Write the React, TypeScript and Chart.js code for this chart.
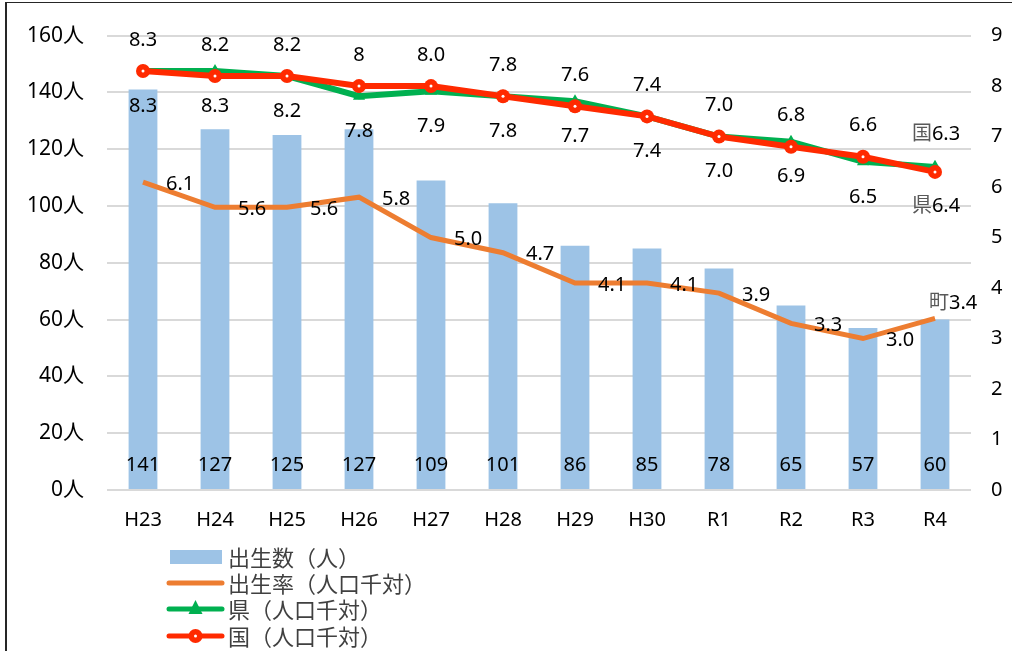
import React, { useEffect, useRef } from 'react';
import { Chart, registerables } from 'chart.js';

Chart.register(...registerables);

const categories = ['H23', 'H24', 'H25', 'H26', 'H27', 'H28', 'H29', 'H30', 'R1', 'R2', 'R3', 'R4'];
const births = [141, 127, 125, 127, 109, 101, 86, 85, 78, 65, 57, 60];
const townRate = [6.1, 5.6, 5.6, 5.8, 5.0, 4.7, 4.1, 4.1, 3.9, 3.3, 3.0, 3.4];
const prefRate = [8.3, 8.3, 8.2, 7.8, 7.9, 7.8, 7.7, 7.4, 7.0, 6.9, 6.5, 6.4];
const nationalRate = [8.3, 8.2, 8.2, 8.0, 8.0, 7.8, 7.6, 7.4, 7.0, 6.8, 6.6, 6.3];
const nationalLabels = ['8.3', '8.2', '8.2', '8', '8.0', '7.8', '7.6', '7.4', '7.0', '6.8', '6.6', '6.3'];
const legendLabels = ['出生数（人）', '出生率（人口千対）', '県（人口千対）', '国（人口千対）'];
const lastPrefixes = ['町', '県', '国'];
const leftMax = 160;
const leftStep = 20;
const rightMax = 9;
const rightStep = 1;

const FONT = "'Noto Sans', 'Noto Sans CJK JP', sans-serif";
const CJK = "'Noto Sans CJK JP', sans-serif";
const BAR = '#9DC3E6';
const ORANGE = '#ED7D31';
const GREEN = '#00B050';
const RED = '#FF2A00';
const FS = 20;

const labelPlugin = {
  id: 'customLabels',
  afterDatasetsDraw(chart: any) {
    const ctx = chart.ctx;
    ctx.save();
    chart.getDatasetMeta(3).data.forEach((el: any) => {
      ctx.fillStyle = '#fff';
      ctx.beginPath();
      ctx.arc(el.x, el.y, 1.5, 0, Math.PI * 2);
      ctx.fill();
    });
    ctx.font = `${FS}px ${FONT}`;
    ctx.textBaseline = 'middle';
    ctx.fillStyle = '#000';
    const y0 = chart.scales.y.getPixelForValue(0);
    ctx.textAlign = 'center';
    chart.getDatasetMeta(0).data.forEach((el: any, i: number) => {
      ctx.fillText(String(births[i]), el.x, y0 - 25);
    });
    const last = categories.length - 1;
    const drawPrefixed = (prefix: string, num: string, x: number, y: number, align: string) => {
      const pw = ctx.measureText(prefix).width;
      const nw = ctx.measureText(num).width;
      let left = x;
      if (align === 'center') left = x - (pw + nw) / 2;
      ctx.textAlign = 'left';
      ctx.fillStyle = '#595959';
      ctx.fillText(prefix, left, y);
      ctx.fillStyle = '#000';
      ctx.fillText(num, left + pw, y);
    };
    chart.getDatasetMeta(1).data.forEach((el: any, i: number) => {
      const t = townRate[i].toFixed(1);
      if (i === last) {
        drawPrefixed(lastPrefixes[0], t, el.x - 6, el.y - 15, 'left');
      } else {
        ctx.textAlign = 'left';
        ctx.fillStyle = '#000';
        ctx.fillText(t, el.x + 23, el.y + 2);
      }
    });
    chart.getDatasetMeta(2).data.forEach((el: any, i: number) => {
      const t = prefRate[i].toFixed(1);
      if (i === last) {
        drawPrefixed(lastPrefixes[1], t, el.x + 1, el.y + 39, 'center');
      } else {
        ctx.textAlign = 'center';
        ctx.fillStyle = '#000';
        ctx.fillText(t, el.x, el.y + 35);
      }
    });
    chart.getDatasetMeta(3).data.forEach((el: any, i: number) => {
      const t = nationalLabels[i];
      if (i === last) {
        drawPrefixed(lastPrefixes[2], t, el.x + 1, el.y - 38, 'center');
      } else {
        ctx.textAlign = 'center';
        ctx.fillStyle = '#000';
        ctx.fillText(t, el.x, el.y - 31);
      }
    });
    ctx.restore();
  },
  afterDraw(chart: any) {
    const ctx = chart.ctx;
    ctx.save();
    ctx.fillStyle = '#262626';
    ctx.fillRect(5, 2, 2, 649);
    ctx.fillRect(5, 2, 1007, 1);
    const rows = [557, 583, 609, 636];
    const x1 = 169;
    const x2 = 222;
    const xm = (x1 + x2) / 2;
    ctx.lineCap = 'round';
    ctx.fillStyle = BAR;
    ctx.fillRect(170, rows[0] - 7, 52, 14);
    const line = (color: string, y: number) => {
      ctx.strokeStyle = color;
      ctx.lineWidth = 5;
      ctx.beginPath();
      ctx.moveTo(x1, y);
      ctx.lineTo(x2, y);
      ctx.stroke();
    };
    line(ORANGE, rows[1]);
    line(GREEN, rows[2]);
    ctx.fillStyle = GREEN;
    ctx.beginPath();
    ctx.moveTo(xm, rows[2] - 9);
    ctx.lineTo(xm + 7, rows[2] + 5);
    ctx.lineTo(xm - 7, rows[2] + 5);
    ctx.closePath();
    ctx.fill();
    line(RED, rows[3]);
    ctx.fillStyle = RED;
    ctx.beginPath();
    ctx.arc(xm, rows[3], 7, 0, Math.PI * 2);
    ctx.fill();
    ctx.fillStyle = '#fff';
    ctx.beginPath();
    ctx.arc(xm, rows[3], 1.5, 0, Math.PI * 2);
    ctx.fill();
    ctx.font = `22px ${CJK}`;
    ctx.fillStyle = '#404040';
    ctx.textAlign = 'left';
    ctx.textBaseline = 'middle';
    legendLabels.forEach((t, i) => ctx.fillText(t, 228, rows[i] + 1));
    ctx.restore();
  },
};

export default function App() {
  const ref = useRef<HTMLCanvasElement | null>(null);
  useEffect(() => {
    if (!ref.current) return;
    const chart = new Chart(ref.current, {
      type: 'bar',
      data: {
        labels: categories,
        datasets: [
          {
            type: 'bar',
            label: legendLabels[0],
            data: births,
            backgroundColor: BAR,
            yAxisID: 'y',
            barPercentage: 0.4,
            categoryPercentage: 1,
            order: 4,
          },
          {
            type: 'line',
            label: legendLabels[1],
            data: townRate,
            borderColor: ORANGE,
            borderWidth: 5,
            pointRadius: 0,
            yAxisID: 'y1',
            order: 3,
          },
          {
            type: 'line',
            label: legendLabels[2],
            data: prefRate,
            borderColor: GREEN,
            backgroundColor: GREEN,
            borderWidth: 6,
            pointStyle: 'triangle',
            pointRadius: 7,
            pointBorderWidth: 0,
            yAxisID: 'y1',
            order: 2,
          },
          {
            type: 'line',
            label: legendLabels[3],
            data: nationalRate,
            borderColor: RED,
            backgroundColor: RED,
            borderWidth: 6,
            pointStyle: 'circle',
            pointRadius: 7,
            pointBorderWidth: 0,
            yAxisID: 'y1',
            order: 1,
          },
        ] as any,
      },
      options: {
        responsive: false,
        animation: false,
        events: [],
        layout: { padding: { top: 35, bottom: 116, left: 0, right: 0 } },
        plugins: { legend: { display: false }, tooltip: { enabled: false } },
        scales: {
          x: {
            offset: true,
            grid: { display: false, drawTicks: false },
            border: { display: false },
            ticks: { font: { family: FONT, size: FS }, color: '#000', padding: 18, maxRotation: 0 },
            afterFit: (s: any) => { s.height = 45; },
          },
          y: {
            position: 'left',
            min: 0,
            max: leftMax,
            grid: { color: '#D9D9D9', lineWidth: 2, drawTicks: false },
            border: { display: false },
            ticks: {
              stepSize: leftStep,
              padding: 23,
              color: '#000',
              font: { family: FONT, size: 21 },
              callback: (v: any) => `${v}人`,
            },
            afterFit: (s: any) => { s.width = 107; },
          },
          y1: {
            position: 'right',
            min: 0,
            max: rightMax,
            grid: { display: false, drawTicks: false },
            border: { display: false },
            ticks: {
              stepSize: rightStep,
              padding: 20,
              color: '#000',
              font: { family: FONT, size: FS },
            },
            afterFit: (s: any) => { s.width = 41; },
          },
        },
      } as any,
      plugins: [labelPlugin],
    });
    return () => chart.destroy();
  }, []);
  return (
    <div style={{ position: 'absolute', left: 0, top: 0, width: 1012, height: 651, background: '#fff' }}>
      <canvas ref={ref} width={1012} height={651} style={{ display: 'block' }} />
    </div>
  );
}
